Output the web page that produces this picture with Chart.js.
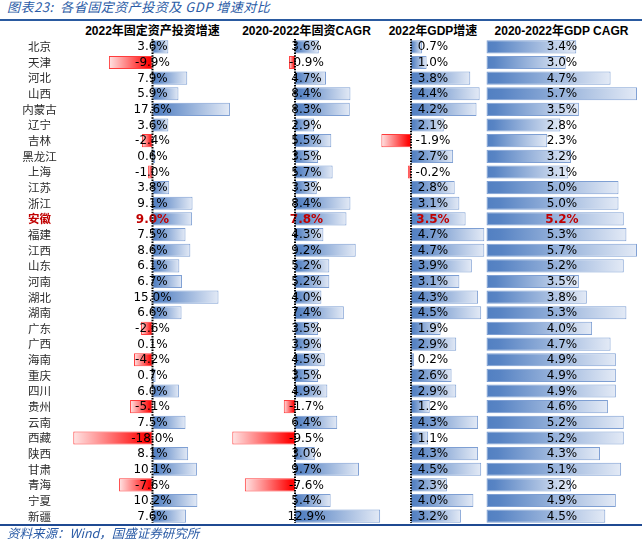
<!DOCTYPE html>
<html lang="zh">
<head>
<meta charset="UTF-8">
<title>各省固定资产投资及GDP增速对比</title>
<script src="https://cdn.jsdelivr.net/npm/chart.js"></script>
<style>
  body {
    margin: 0;
    width: 642px;
    height: 557px;
    background: #fff;
    position: relative;
    overflow: hidden;
    font-family: 'Liberation Sans', 'Noto Sans CJK SC', sans-serif;
  }
  .titulo {
    position: absolute;
    left: 7px;
    top: -1px;
    font-size: 13px;
    line-height: 16px;
    font-style: italic;
    letter-spacing: 0.5px;
    color: #2a5ba6;
    font-family: 'Noto Sans CJK SC', sans-serif;
  }
  .regla {
    position: absolute;
    left: 0;
    width: 642px;
    height: 2px;
    background: #2a5aa0;
  }
  .cabecera {
    position: absolute;
    top: 24px;
    font-size: 12px;
    line-height: 14px;
    font-weight: bold;
    color: #000;
    white-space: nowrap;
    transform: translateX(-50%);
  }
  .fuente {
    position: absolute;
    left: 7px;
    top: 525px;
    font-size: 12.5px;
    line-height: 16px;
    font-style: italic;
    color: #2a5ba6;
    font-family: 'Noto Sans CJK SC', sans-serif;
  }
  canvas {
    position: absolute;
    left: 0;
    top: 39px;
  }
</style>
</head>
<body>
  <div class="titulo">图表23:&nbsp; 各省固定资产投资及 GDP 增速对比</div>
  <div class="regla" style="top:19px"></div>
  <div class="cabecera" style="left:152.5px">2022年固定资产投资增速</div>
  <div class="cabecera" style="left:306.5px">2020-2022年固资CAGR</div>
  <div class="cabecera" style="left:433px">2022年GDP增速</div>
  <div class="cabecera" style="left:561.5px">2020-2022年GDP CAGR</div>
  <canvas id="tabla" width="642" height="485"></canvas>
  <div class="regla" style="top:524px; background:#1f4a92"></div>
  <div class="fuente">资料来源：Wind，国盛证券研究所</div>

<script>
  // datos (%)
  const provinces = ['北京', '天津', '河北', '山西', '内蒙古', '辽宁', '吉林', '黑龙江', '上海', '江苏',
    '浙江', '安徽', '福建', '江西', '山东', '河南', '湖北', '湖南', '广东', '广西', '海南', '重庆',
    '四川', '贵州', '云南', '西藏', '陕西', '甘肃', '青海', '宁夏', '新疆'];
  const faiGrowth2022 = [3.6, -9.9, 7.9, 5.9, 17.6, 3.6, -2.4, 0.6, -1.0, 3.8, 9.1, 9.0, 7.5, 8.6, 6.1,
    6.7, 15.0, 6.6, -2.6, 0.1, -4.2, 0.7, 6.0, -5.1, 7.5, -18.0, 8.1, 10.1, -7.6, 10.2, 7.6];
  const faiCagr = [3.6, -0.9, 4.7, 8.4, 8.3, 2.9, 5.5, 3.5, 5.7, 3.3, 8.4, 7.8, 4.3, 9.2, 5.2,
    5.2, 4.0, 7.4, 3.5, 3.9, 4.5, 3.5, 4.9, -1.7, 6.4, -9.5, 3.0, 9.7, -7.6, 5.4, 12.9];
  const gdpGrowth2022 = [0.7, 1.0, 3.8, 4.4, 4.2, 2.1, -1.9, 2.7, -0.2, 2.8, 3.1, 3.5, 4.7, 4.7, 3.9,
    3.1, 4.3, 4.5, 1.9, 2.9, 0.2, 2.6, 2.9, 1.2, 4.3, 1.1, 4.3, 4.5, 2.3, 4.0, 3.2];
  const gdpCagr = [3.4, 3.0, 4.7, 5.7, 3.5, 2.8, 2.3, 3.2, 3.1, 5.0, 5.0, 5.2, 5.3, 5.7, 5.2,
    3.5, 3.8, 5.3, 4.0, 4.7, 4.9, 4.9, 4.9, 4.6, 5.2, 5.2, 4.3, 5.1, 3.2, 4.9, 4.5];
  const highlight = '安徽';

  // columnas: posicion del cero, pixeles por punto, centro del texto
  const columnas = [
    { zero: 152.5, ppu: 4.4, texto: 152.5, eje: true },
    { zero: 295, ppu: 6.6, texto: 306.5, eje: true },
    { zero: 411, ppu: 15.6, texto: 433, eje: true },
    { zero: 486.5, ppu: 26.4, texto: 562, eje: false }
  ];
  const ANCHO = 642;
  const series = [faiGrowth2022, faiCagr, gdpGrowth2022, gdpCagr];

  function relleno(ctx) {
    if (ctx.type !== 'data') return 'transparent';
    const chart = ctx.chart;
    const scale = chart.scales[ctx.dataset.xAxisID];
    const v = ctx.raw;
    const x0 = scale.getPixelForValue(0);
    const x1 = scale.getPixelForValue(v);
    if (!isFinite(x0) || !isFinite(x1) || x0 === x1) return v < 0 ? '#ff0000' : '#5280c2';
    const g = chart.ctx.createLinearGradient(x0, 0, x1, 0);
    if (v < 0) {
      g.addColorStop(0, '#ff0000');
      g.addColorStop(0.1, '#ff0a0a');
      g.addColorStop(1, '#ffe4e4');
    } else {
      g.addColorStop(0, '#5280c2');
      g.addColorStop(0.1, '#5884c4');
      g.addColorStop(1, '#e3eaf6');
    }
    return g;
  }

  function borde(ctx) {
    return ctx.raw < 0 ? '#ff3c3c' : '#7e9fd3';
  }

  const escalas = {
    y: { type: 'category', display: false, offset: true, grid: { display: false } }
  };
  columnas.forEach((c, d) => {
    escalas['x' + d] = {
      type: 'linear',
      display: false,
      min: -c.zero / c.ppu,
      max: (ANCHO - c.zero) / c.ppu
    };
  });

  // textos de la tabla y lineas del cero
  const textoTabla = {
    id: 'textoTabla',
    afterDatasetsDraw(chart) {
      const { ctx, chartArea, scales } = chart;
      const y = scales.y;
      ctx.save();
      ctx.textAlign = 'center';
      ctx.textBaseline = 'middle';

      provinces.forEach((p, i) => {
        const hl = p === highlight;
        ctx.font = (hl ? 'bold ' : '') + '11.5px "Noto Sans CJK SC"';
        ctx.fillStyle = hl ? '#c00000' : '#2b2b2b';
        ctx.fillText(p, 39.5, y.getPixelForValue(i));
      });

      chart.data.datasets.forEach((ds, d) => {
        ds.data.forEach((v, i) => {
          const hl = provinces[i] === highlight;
          ctx.font = (hl ? 'bold ' : '') + '12px "DejaVu Sans"';
          ctx.fillStyle = hl ? '#c00000' : '#000000';
          ctx.fillText(v.toFixed(1) + '%', columnas[d].texto, y.getPixelForValue(i) + 0.5);
        });
      });

      ctx.setLineDash([1.5, 1.2]);
      ctx.lineWidth = 2;
      ctx.strokeStyle = '#000';
      columnas.forEach((c, d) => {
        if (!c.eje) return;
        const x = scales['x' + d].getPixelForValue(0);
        ctx.beginPath();
        ctx.moveTo(x, chartArea.top);
        ctx.lineTo(x, chartArea.bottom - 1);
        ctx.stroke();
      });
      ctx.restore();
    }
  };

  new Chart(document.getElementById('tabla').getContext('2d'), {
    type: 'bar',
    data: {
      labels: provinces,
      datasets: series.map((s, d) => ({
        data: s,
        xAxisID: 'x' + d,
        grouped: false,
        barPercentage: 0.84,
        categoryPercentage: 1,
        borderWidth: 1,
        borderSkipped: false,
        backgroundColor: relleno,
        borderColor: borde
      }))
    },
    options: {
      indexAxis: 'y',
      responsive: false,
      animation: false,
      layout: { padding: 0 },
      scales: escalas,
      plugins: {
        legend: { display: false },
        tooltip: { enabled: false }
      }
    },
    plugins: [textoTabla]
  });
</script>
</body>
</html>
